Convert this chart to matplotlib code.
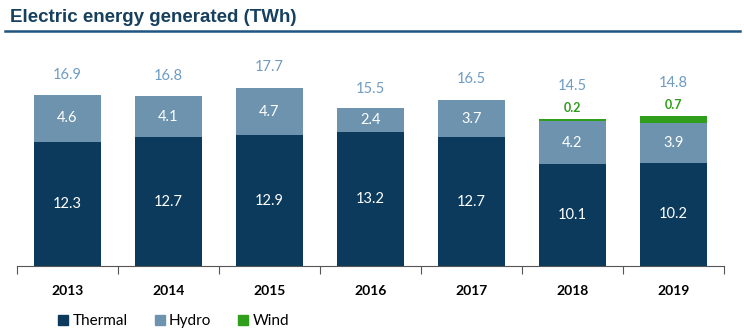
import numpy as np
import matplotlib.pyplot as plt
from matplotlib.lines import Line2D

plt.rcParams['font.family'] = ['Lato', 'DejaVu Sans']

years = ['2013', '2014', '2015', '2016', '2017', '2018', '2019']
thermal = [12.3, 12.7, 12.9, 13.2, 12.7, 10.1, 10.2]
hydro = [4.6, 4.1, 4.7, 2.4, 3.7, 4.2, 3.9]
wind = [0.0, 0.0, 0.0, 0.0, 0.0, 0.2, 0.7]
totals = [16.9, 16.8, 17.7, 15.5, 16.5, 14.5, 14.8]

c_thermal = '#0b3a5c'
c_hydro = '#6d93ae'
c_wind = '#2f9e1b'
c_total = '#6f9cc2'

fig = plt.figure(figsize=(7.44, 3.34), dpi=100)
W, H = 744, 334
base_y = 266
px_per_unit = 10.12
ymax = 20
top_y = base_y - ymax * px_per_unit
ax = fig.add_axes([17 / W, 1 - base_y / H, (724 - 17) / W, (base_y - top_y) / H])

x = np.arange(len(years))
bw = 0.67
ax.bar(x, thermal, bw, color=c_thermal, label='Thermal')
ax.bar(x, hydro, bw, bottom=thermal, color=c_hydro, label='Hydro')
bottom_w = np.array(thermal) + np.array(hydro)
ax.bar(x, wind, bw, bottom=bottom_w, color=c_wind, label='Wind')

for i in range(len(years)):
    ax.text(x[i], thermal[i] / 2, f'{thermal[i]:.1f}', ha='center', va='center',
            color='white', fontsize=10.5)
    ax.text(x[i], thermal[i] + hydro[i] / 2, f'{hydro[i]:.1f}', ha='center', va='center',
            color='white', fontsize=10.5)
    top = thermal[i] + hydro[i] + wind[i]
    if wind[i] > 0:
        ax.text(x[i], top + 1.1, f'{wind[i]:.1f}', ha='center', va='center',
                color=c_wind, fontsize=9, fontweight='bold')
        ax.text(x[i], top + 3.25, f'{totals[i]:.1f}', ha='center', va='center',
                color=c_total, fontsize=10.5)
    else:
        ax.text(x[i], totals[i] + 1.95, f'{totals[i]:.1f}', ha='center', va='center',
                color=c_total, fontsize=10.5)

ax.set_xlim(-0.5, len(years) - 0.5)
ax.set_ylim(0, ymax)
ax.set_xticks(x)
ax.set_xticklabels(years, fontweight='bold', fontsize=10)
ax.set_xticks(np.arange(-0.5, len(years)), minor=True)
ax.tick_params(axis='x', which='major', length=0, pad=14)
ax.tick_params(axis='x', which='minor', length=6, color='#555555', width=0.8, direction='out')
ax.set_yticks([])
for s in ['left', 'right', 'top']:
    ax.spines[s].set_visible(False)
ax.spines['bottom'].set_color('#555555')
ax.spines['bottom'].set_linewidth(0.8)

# title and rule
fig.text(10 / W, 1 - 17 / H, 'Electric energy generated (TWh)', fontsize=13.5,
         fontweight='bold', color='#17405f', va='center', ha='left',
         family=['Liberation Sans', 'DejaVu Sans'])
fig.add_artist(Line2D([5 / W, 740 / W], [1 - 31 / H, 1 - 31 / H], color='#1f5580',
                      linewidth=1.8, transform=fig.transFigure))

handles = [Line2D([], [], marker='s', linestyle='none', markersize=7, color=c)
           for c in [c_thermal, c_hydro, c_wind]]
fig.legend(handles, ['Thermal', 'Hydro', 'Wind'], loc='center left',
           bbox_to_anchor=(42 / W, 1 - 321 / H), ncol=3, frameon=False,
           fontsize=11, handletextpad=0.1, columnspacing=1.6, handlelength=1.0)

fig.savefig('out.png', dpi=100)
